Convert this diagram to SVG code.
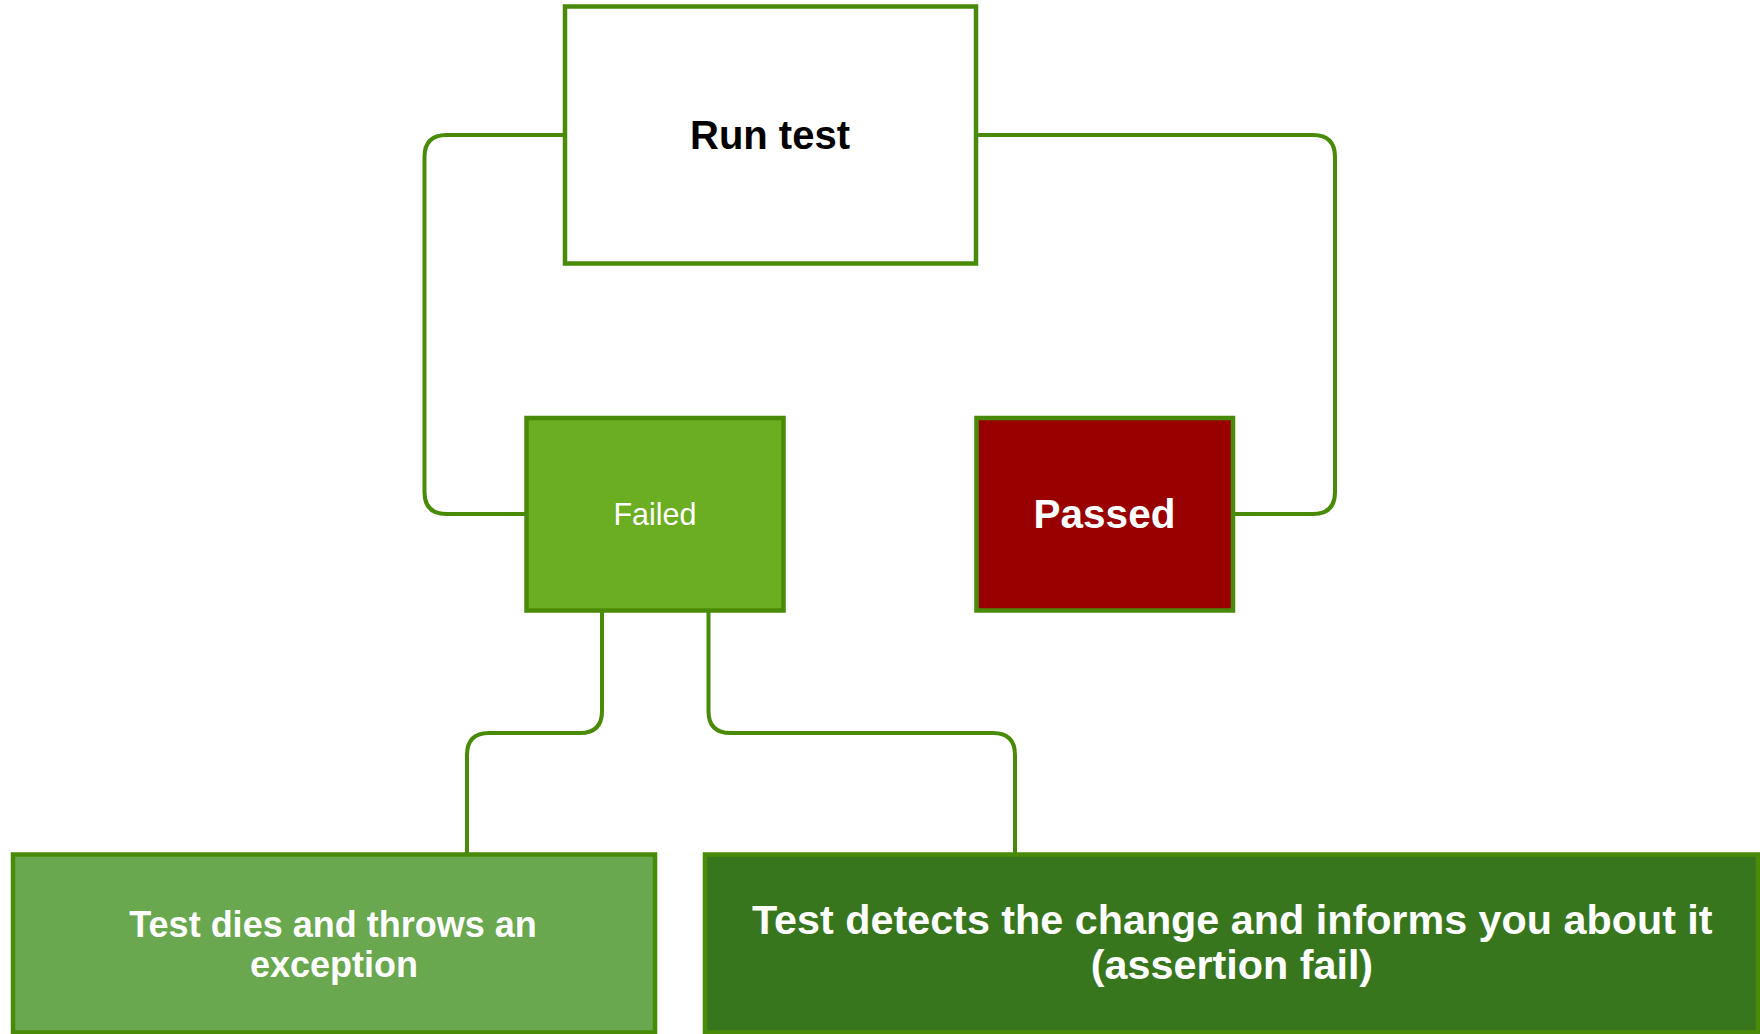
<svg xmlns="http://www.w3.org/2000/svg" width="1760" height="1034" viewBox="0 0 1760 1034">
  <style>
    .box { stroke: #4A8A09; stroke-width: 4.5; }
    .link { fill: none; stroke: #4A8A09; stroke-width: 4; stroke-linejoin: round; }
    .lbl { font-family: "Liberation Sans", Arial, sans-serif; text-anchor: middle; }
    .b { font-weight: bold; }
  </style>
  <rect width="1760" height="1034" fill="#FFFFFF"/>

  <!-- connectors -->
  <g id="connectors">
    <path class="link" d="M 565 135 H 446.5 Q 424.5 135 424.5 157 V 492 Q 424.5 514 446.5 514 H 526.5"/>
    <path class="link" d="M 976 135 H 1313 Q 1335 135 1335 157 V 492 Q 1335 514 1313 514 H 1233"/>
    <path class="link" d="M 602 611 V 711 Q 602 733 580 733 H 489 Q 467 733 467 755 V 854"/>
    <path class="link" d="M 708.5 611 V 711 Q 708.5 733 730.5 733 H 993 Q 1015 733 1015 755 V 854"/>
  </g>

  <!-- Run test -->
  <g id="run-test">
    <rect class="box" x="565" y="6.5" width="411" height="257" fill="#FFFFFF"/>
    <text class="lbl b" x="770" y="148.5" font-size="40" fill="#000000">Run test</text>
  </g>

  <!-- Failed -->
  <g id="failed">
    <rect class="box" x="526.5" y="418" width="257" height="192.5" fill="#6CAE21"/>
    <text class="lbl" x="655" y="525" font-size="30.5" fill="#FFFFFF">Failed</text>
  </g>

  <!-- Passed -->
  <g id="passed">
    <rect class="box" x="976.5" y="418" width="256.5" height="192.5" fill="#990000"/>
    <text class="lbl b" x="1104.5" y="527.5" font-size="40.5" fill="#FFFFFF">Passed</text>
  </g>

  <!-- Test dies -->
  <g id="test-dies">
    <rect class="box" x="13" y="854.5" width="642" height="178" fill="#6AA84F"/>
    <text class="lbl b" font-size="36" fill="#FFFFFF">
      <tspan x="338" y="937">Test dies and throws an</tspan>
      <tspan x="334" y="977">exception</tspan>
    </text>
  </g>

  <!-- Test detects -->
  <g id="test-detects">
    <rect class="box" x="705" y="854.5" width="1053" height="178" fill="#38761D"/>
    <text class="lbl b" font-size="41.3" fill="#FFFFFF">
      <tspan x="1238" y="933.5">Test detects the change and informs you about it</tspan>
      <tspan x="1232" y="978.5">(assertion fail)</tspan>
    </text>
  </g>
</svg>
